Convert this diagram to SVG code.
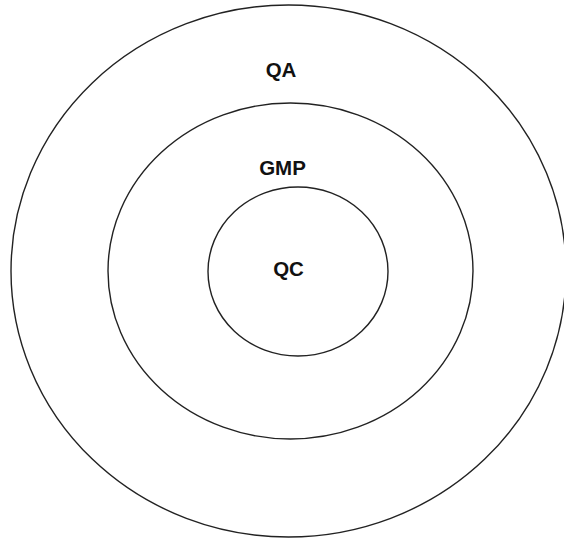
<svg xmlns="http://www.w3.org/2000/svg" width="564" height="541" viewBox="0 0 564 541">
<style>
.ring{fill:none;stroke:#222;stroke-width:1.4}
.lbl{font-family:"Liberation Sans",Arial,sans-serif;font-weight:bold;font-size:20.5px;fill:#111;text-anchor:middle}
</style>
<rect width="564" height="541" fill="#fff"/>
<g id="qa">
<ellipse class="ring" cx="288.5" cy="271" rx="277.5" ry="266"/>
<text class="lbl" x="281" y="77">QA</text>
</g>
<g id="gmp">
<ellipse class="ring" cx="290.5" cy="271" rx="182.5" ry="168"/>
<text class="lbl" x="282.5" y="175">GMP</text>
</g>
<g id="qc">
<ellipse class="ring" cx="298" cy="271.5" rx="90" ry="84.5"/>
<text class="lbl" x="288.5" y="276">QC</text>
</g>
<g id="connectors"/>
</svg>
